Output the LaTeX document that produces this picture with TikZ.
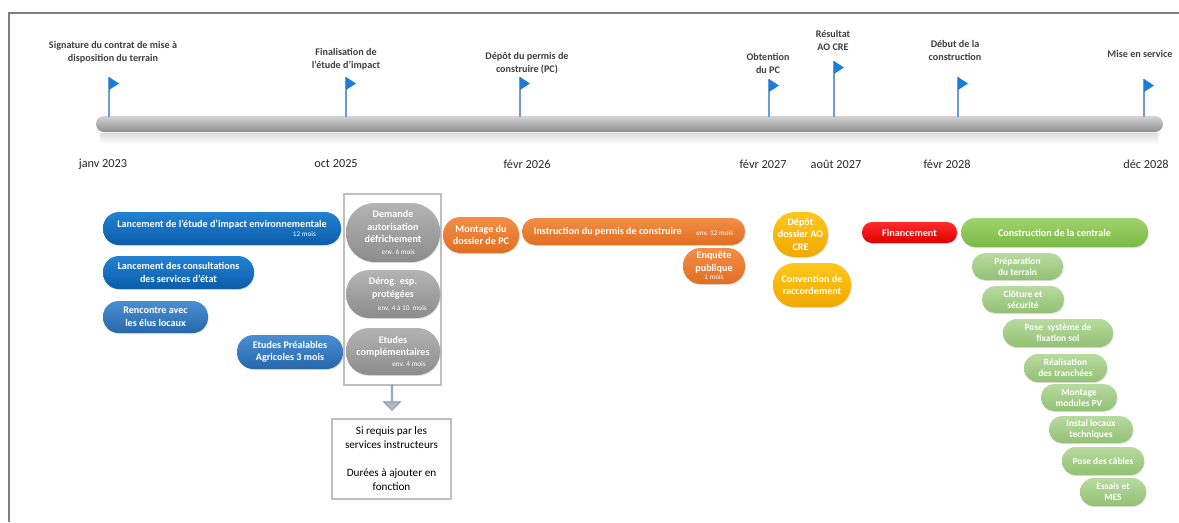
\documentclass[tikz,border=0pt]{standalone}
\usepackage{fontspec}
\setmainfont{Carlito}
\usetikzlibrary{shapes.arrows,shadows}
\definecolor{frameC}{HTML}{7F7F7F}
\definecolor{labC}{HTML}{3F3F3F}
\definecolor{dateC}{HTML}{262626}
\definecolor{barTop}{HTML}{D4D4D4}
\definecolor{barMid}{HTML}{B8B8B8}
\definecolor{barBot}{HTML}{8E8E8E}
\definecolor{poleC}{HTML}{6C9BDB}
\definecolor{flagC}{HTML}{1A7FD4}
\definecolor{blueT}{HTML}{2282D2}
\definecolor{blueB}{HTML}{0B5DAA}
\definecolor{lblueT}{HTML}{4A8FD2}
\definecolor{lblueB}{HTML}{2767AC}
\definecolor{grayT}{HTML}{B4B4B4}
\definecolor{grayB}{HTML}{8C8C8C}
\definecolor{orT}{HTML}{F38E47}
\definecolor{orB}{HTML}{E26E22}
\definecolor{yeT}{HTML}{FFC71C}
\definecolor{yeB}{HTML}{F0A800}
\definecolor{reT}{HTML}{FF2B2B}
\definecolor{reB}{HTML}{DD0000}
\definecolor{grT}{HTML}{A0D46C}
\definecolor{grB}{HTML}{7AB845}
\definecolor{lgrT}{HTML}{B8DA9F}
\definecolor{lgrB}{HTML}{92C174}
\definecolor{arrowLine}{HTML}{7A93BD}
\newcommand\smalltxt{\mdseries\fontsize{5.4}{6}\selectfont}
\newcommand\mkpill[7][]{%
  \pgfmathsetmacro\pw{(#5-#3)*0.75}%
  \pgfmathsetmacro\ph{(#6-#4)*0.75}%
  \pgfmathsetmacro\pr{min(\ph/2,\pw/2)*0.97}%
  \node[pill,#1,minimum width=\pw pt,minimum height=\ph pt,rounded corners=\pr pt] (#2) at ({(#3+#5)/2},{(#4+#6)/2}) {#7};}
\begin{document}
\begin{tikzpicture}[x=0.75pt,y=-0.75pt,
  pill/.style={inner sep=0pt, align=center, text=white,
    font=\bfseries\fontsize{7.6}{9.4}\selectfont,
    drop shadow={shadow xshift=0.5pt,shadow yshift=-0.7pt,opacity=0.25}},
  bluep/.style={top color=blueT, bottom color=blueB},
  lbluep/.style={top color=lblueT, bottom color=lblueB},
  grayp/.style={top color=grayT, bottom color=grayB},
  orp/.style={top color=orT, bottom color=orB},
  yep/.style={top color=yeT, bottom color=yeB},
  rep/.style={top color=reT, bottom color=reB},
  grp/.style={top color=grT, bottom color=grB},
  lgrp/.style={top color=lgrT, bottom color=lgrB, font=\bfseries\fontsize{7.1}{8.3}\selectfont},
  toplab/.style={align=center, text=labC, inner sep=0pt, font=\bfseries\fontsize{7.6}{9.75}\selectfont},
  datelab/.style={text=dateC, inner sep=0pt, font=\fontsize{9.2}{11}\selectfont},
  pole/.style={draw=poleC, line width=0.8pt},
  flag/.style={fill=flagC}
]
\useasboundingbox (0,0) rectangle (1179,522);
% frame
\draw[frameC, line width=1.1pt] (9,522) -- (9,13) -- (1179,13);

% timeline bar
\shade[top color=black!14, bottom color=white] (100,133) rectangle (1158,144);
\shade[top color=barTop, middle color=barMid, bottom color=barBot, rounded corners=6pt] (96,116) rectangle (1163,132);

% flags
\foreach \fx/\ft in {109/77,346/77,520/77,769/79,834/61,958/77,1144/79}{
  \draw[pole] (\fx,117) -- (\fx,\ft);
  \fill[flag] (\fx,\ft) -- (\fx+10,\ft+6.5) -- (\fx,\ft+13) -- cycle;
}

% milestone labels
\node[toplab] (lab1) at (113,52.5) {Signature du contrat de mise à\\disposition du terrain};
\node[toplab] (lab2) at (346,59.5) {Finalisation de\\l’étude d’impact};
\node[toplab] (lab3) at (527,63) {Dépôt du permis de\\construire (PC)};
\node[toplab] (lab4) at (768,63.5) {Obtention\\du PC};
\node[toplab] (lab5) at (833,40.5) {Résultat\\AO CRE};
\node[toplab] (lab6) at (955,50.5) {Début de la\\construction};
\node[toplab] (lab7) at (1140,54) {Mise en service};

% dates
\node[datelab] (d1) at (103,164) {janv 2023};
\node[datelab] (d2) at (336,164) {oct 2025};
\node[datelab] (d3) at (527,164) {févr 2026};
\node[datelab] (d4) at (763,164) {févr 2027};
\node[datelab] (d5) at (836,164) {août 2027};
\node[datelab] (d6) at (947,164) {févr 2028};
\node[datelab] (d7) at (1146,164) {déc 2028};

% blue boxes
\mkpill[bluep,align=right]{b1}{103}{212}{341}{245}{Lancement de l’étude d’impact environnementale\\[-2.5pt]{\smalltxt 12 mois}\hspace*{8pt}}
\mkpill[bluep]{b2}{103}{256}{254}{289}{Lancement des consultations\\des services d’état}
\mkpill[lbluep]{b3}{103}{301}{208}{333}{Rencontre avec\\les élus locaux}
\mkpill[lbluep]{b4}{237}{335}{343}{369}{Etudes Préalables\\Agricoles 3 mois}

% gray group
\node[draw=black!25, fill=white, line width=0.8pt, minimum width={97*0.75pt}, minimum height={191*0.75pt}, inner sep=0pt] (gframe) at (392.5,289.5) {};
\mkpill[grayp]{g1}{346}{203}{440}{262}{Demande\\autorisation\\défrichement\\[-1pt]\hspace*{8pt}{\smalltxt env. 6 mois}}
\mkpill[grayp]{g2}{346}{270}{440}{318}{Dérog. esp.\\protégées\\[0pt]\hspace*{14pt}{\smalltxt env. 4 à 10\ \ mois}}
\mkpill[grayp]{g3}{346}{328}{440}{375}{Etudes\\complémentaires\\[-1pt]\hspace*{24pt}{\smalltxt env. 4 mois}}

% note box and block arrow
\node[draw=black!25, fill=white, line width=0.8pt, minimum width={119*0.75pt}, minimum height={80*0.75pt}, inner sep=0pt, align=center, font=\fontsize{8.4}{10.5}\selectfont] (note) at (391.5,459) {Si requis par les\\services instructeurs\\[10.5pt]Durées à ajouter en\\fonction};
\node[single arrow, draw=arrowLine, fill=black!28, line width=0.6pt, shape border rotate=270,
  minimum width={17*0.75pt}, minimum height={25*0.75pt}, single arrow head extend={4.5*0.75pt},
  single arrow head indent=0pt, inner sep=0pt] (arr) at (392,397.5) {};

% orange
\mkpill[orp]{o1}{443}{217}{519}{253}{Montage du\\dossier de PC}
\mkpill[orp]{o2}{522}{218}{745}{245}{Instruction du permis de construire\hspace{11pt}\raisebox{-1pt}{\smalltxt env. 12 mois}}
\mkpill[orp]{o3}{683}{248}{745}{284}{Enquête\\publique\\[-3pt]{\smalltxt 1 mois}}

% yellow
\mkpill[yep]{y1}{773}{212}{828}{257}{Dépôt\\dossier AO\\CRE}
\mkpill[yep]{y2}{773}{263}{851}{307}{Convention de\\raccordement}

% red
\mkpill[rep]{r1}{862}{222}{957}{243}{Financement}

% green
\mkpill[grp]{c0}{961}{218}{1148}{247}{Construction de la centrale}
\mkpill[lgrp]{c1}{972}{253}{1063}{280}{Préparation\\du terrain}
\mkpill[lgrp]{c2}{982}{286}{1064}{313}{Clôture et\\sécurité}
\mkpill[lgrp]{c3}{1003}{319}{1113}{347}{Pose\ \ système de\\fixation sol}
\mkpill[lgrp]{c4}{1024}{354}{1107}{382}{Réalisation\\des tranchées}
\mkpill[lgrp]{c5}{1041}{384}{1117}{411}{Montage\\modules PV}
\mkpill[lgrp]{c6}{1049}{416}{1133}{443}{Instal locaux\\techniques}
\mkpill[lgrp]{c7}{1062}{447}{1144}{475}{Pose des câbles}
\mkpill[lgrp]{c8}{1080}{478}{1146}{506}{Essais et\\MES}
\end{tikzpicture}
\end{document}
